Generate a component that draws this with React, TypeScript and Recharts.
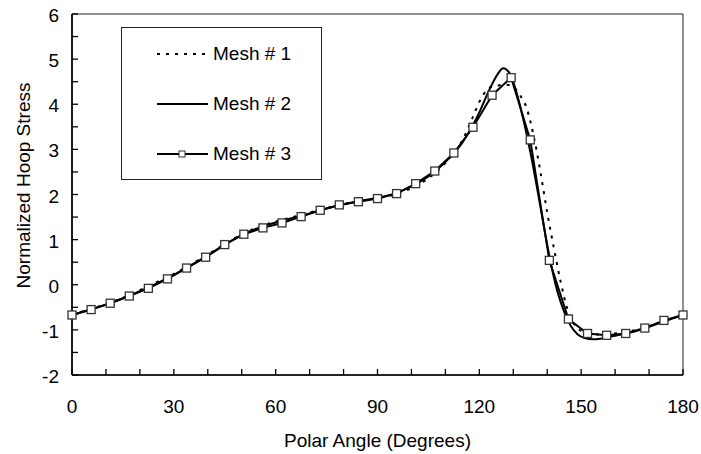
import React from 'react';
import { LineChart, Line, XAxis, YAxis, Legend, ReferenceArea, Label } from 'recharts';

const FONT = '"Liberation Sans", Arial, Helvetica, sans-serif';

// Mesh # 1 (dotted)
const mesh1Angle = [
  0, 5, 10, 15, 20, 25, 30, 35, 40, 45, 50, 55, 60, 65, 70, 75, 80, 85, 90, 95, 100, 105, 110, 115,
  118, 120, 122, 124, 126, 128, 130, 132, 134, 136, 138, 140, 142, 144, 146, 148, 150, 155, 160, 165,
  170, 175, 180,
];
const mesh1Stress = [
  -0.66, -0.55, -0.43, -0.29, -0.12, 0.06, 0.24, 0.45, 0.67, 0.9, 1.12, 1.28, 1.4, 1.5, 1.6, 1.7,
  1.79, 1.86, 1.92, 2.0, 2.14, 2.36, 2.7, 3.2, 3.7, 4.05, 4.3, 4.4, 4.42, 4.43, 4.38, 4.2, 3.9, 3.3,
  2.5, 1.6, 0.8, 0.05, -0.55, -0.88, -1.02, -1.1, -1.08, -1.02, -0.92, -0.79, -0.67,
];

// Mesh # 2 (solid)
const mesh2Angle = [
  0, 5, 10, 15, 20, 25, 30, 35, 40, 45, 50, 55, 60, 65, 70, 75, 80, 85, 90, 95, 100, 105, 110, 115,
  120, 123, 125.5, 127, 129, 131, 133, 135, 137, 139, 141, 143, 145, 147, 149, 151, 153.5, 156, 160,
  165, 170, 175, 180,
];
const mesh2Stress = [
  -0.67, -0.56, -0.44, -0.3, -0.14, 0.03, 0.22, 0.43, 0.65, 0.89, 1.1, 1.26, 1.38, 1.48, 1.58, 1.69,
  1.78, 1.86, 1.93, 2.02, 2.18, 2.4, 2.72, 3.15, 3.82, 4.33, 4.68, 4.8, 4.68, 4.25, 3.65, 2.95, 2.15,
  1.3, 0.5, -0.15, -0.6, -0.92, -1.1, -1.18, -1.21, -1.19, -1.13, -1.05, -0.93, -0.8, -0.67,
];

// Mesh # 3 (squares)
const mesh3Angle = [
  0, 5.625, 11.25, 16.875, 22.5, 28.125, 33.75, 39.375, 45, 50.625, 56.25, 61.875, 67.5, 73.125,
  78.75, 84.375, 90, 95.625, 101.25, 106.875, 112.5, 118.125, 123.75, 129.375, 135, 140.625, 146.25,
  151.875, 157.5, 163.125, 168.75, 174.375, 180,
];
const mesh3Stress = [
  -0.67, -0.55, -0.41, -0.25, -0.08, 0.13, 0.37, 0.61, 0.89, 1.12, 1.26, 1.37, 1.51, 1.65, 1.77,
  1.84, 1.91, 2.02, 2.24, 2.52, 2.92, 3.49, 4.2, 4.59, 3.21, 0.54, -0.76, -1.08, -1.12, -1.08, -0.96,
  -0.79, -0.67,
];

const xTicks = [0, 10, 20, 30, 40, 50, 60, 70, 80, 90, 100, 110, 120, 130, 140, 150, 160, 170, 180];
const xLabels = [0, 30, 60, 90, 120, 150, 180];
const yTicks = [-2, -1.5, -1, -0.5, 0, 0.5, 1, 1.5, 2, 2.5, 3, 3.5, 4, 4.5, 5, 5.5, 6];
const yLabels = [-2, -1, 0, 1, 2, 3, 4, 5, 6];

const toPoints = (angles: number[], values: number[]) =>
  angles.map((a, i) => ({ angle: a, stress: values[i] }));

const mesh1 = toPoints(mesh1Angle, mesh1Stress);
const mesh2 = toPoints(mesh2Angle, mesh2Stress);
const mesh3 = toPoints(mesh3Angle, mesh3Stress);

const XTick = (props: any) => {
  const { x, y, payload } = props;
  return (
    <g>
      <line x1={x} y1={y} x2={x} y2={y - 6} stroke="#000" strokeWidth={1.3} />
      {xLabels.includes(payload.value) && (
        <text x={x} y={y + 38} textAnchor="middle" fontSize={19} fontFamily={FONT} fill="#000">
          {payload.value}
        </text>
      )}
    </g>
  );
};

const YTick = (props: any) => {
  const { x, y, payload } = props;
  return (
    <g>
      <line x1={x} y1={y} x2={x + 6} y2={y} stroke="#000" strokeWidth={1.3} />
      {yLabels.includes(payload.value) && (
        <text x={x - 13} y={y + 8} textAnchor="end" fontSize={19} fontFamily={FONT} fill="#000">
          {payload.value}
        </text>
      )}
    </g>
  );
};

const SquareDot = (props: any) => {
  const { cx, cy, index } = props;
  if (cx == null || cy == null) return null;
  return <rect key={index} x={cx - 4} y={cy - 4} width={8} height={8} fill="#fff" stroke="#333" strokeWidth={1.3} />;
};

const legendRows = [
  { name: 'Mesh # 1', dash: '3 6', marker: false },
  { name: 'Mesh # 2', dash: undefined, marker: false },
  { name: 'Mesh # 3', dash: undefined, marker: true },
];

const LegendBox = () => (
  <div style={{ position: 'relative', width: '100%', height: '100%' }}>
    {legendRows.map((r, i) => (
      <div key={r.name} style={{ position: 'absolute', left: 35, top: 14 + i * 50, height: 24, display: 'flex', alignItems: 'center' }}>
        <svg width={52} height={12} style={{ display: 'block' }}>
          <line x1={0} y1={6} x2={51} y2={6} stroke="#000" strokeWidth={2} strokeDasharray={r.dash} />
          {r.marker && <rect x={22} y={3} width={6} height={6} fill="#fff" stroke="#333" strokeWidth={1} />}
        </svg>
        <span style={{ marginLeft: 4, fontSize: 19, fontFamily: FONT, color: '#000', whiteSpace: 'nowrap' }}>{r.name}</span>
      </div>
    ))}
  </div>
);

const YTitle = (p: any) => {
  const vb = p.viewBox;
  const cx = vb.x + 30;
  const cy = vb.y + vb.height / 2 - 9;
  return (
    <text x={cx} y={cy} transform={`rotate(-90 ${cx} ${cy})`} textAnchor="middle" fontSize={19} fontFamily={FONT} fill="#000">
      Normalized Hoop Stress
    </text>
  );
};

export default function App() {
  return (
    <div style={{ position: 'absolute', left: 0, top: 0, width: 701, height: 454, background: '#fff' }}>
      <LineChart width={701} height={454} margin={{ top: 14, right: 18, bottom: 0, left: 0 }}>
        <XAxis
          type="number"
          dataKey="angle"
          domain={[0, 180]}
          ticks={xTicks}
          interval={0}
          height={79}
          tickSize={0}
          tickMargin={0}
          tickLine={false}
          tick={<XTick />}
          axisLine={{ stroke: '#000', strokeWidth: 1.6 }}
        >
          <Label value="Polar Angle (Degrees)" position="insideBottom" offset={7} style={{ fontSize: 19, fontFamily: FONT, fill: '#000' }} />
        </XAxis>
        <YAxis
          type="number"
          dataKey="stress"
          domain={[-2, 6]}
          ticks={yTicks}
          interval={0}
          width={72}
          tickSize={0}
          tickMargin={0}
          tickLine={false}
          tick={<YTick />}
          axisLine={{ stroke: '#000', strokeWidth: 1.6 }}
        >
          <Label content={<YTitle />} />
        </YAxis>
        <ReferenceArea x1={0} x2={180} y1={-2} y2={6} fill="none" stroke="#222" strokeWidth={1} ifOverflow="visible" />
        <Legend
          layout="vertical"
          align="center"
          verticalAlign="middle"
          content={<LegendBox />}
          wrapperStyle={{ position: 'absolute', left: 121, top: 27, width: 201, height: 153, border: '1.3px solid #222', background: '#fff', boxSizing: 'border-box' }}
        />
        <Line data={mesh1} dataKey="stress" name="Mesh # 1" type="monotone" stroke="#000" strokeWidth={2} strokeDasharray="3 6" dot={false} activeDot={false} isAnimationActive={false} />
        <Line data={mesh2} dataKey="stress" name="Mesh # 2" type="monotone" stroke="#000" strokeWidth={2} dot={false} activeDot={false} isAnimationActive={false} />
        <Line data={mesh3} dataKey="stress" name="Mesh # 3" type="linear" stroke="#000" strokeWidth={2} dot={<SquareDot />} activeDot={false} isAnimationActive={false} />
      </LineChart>
    </div>
  );
}
